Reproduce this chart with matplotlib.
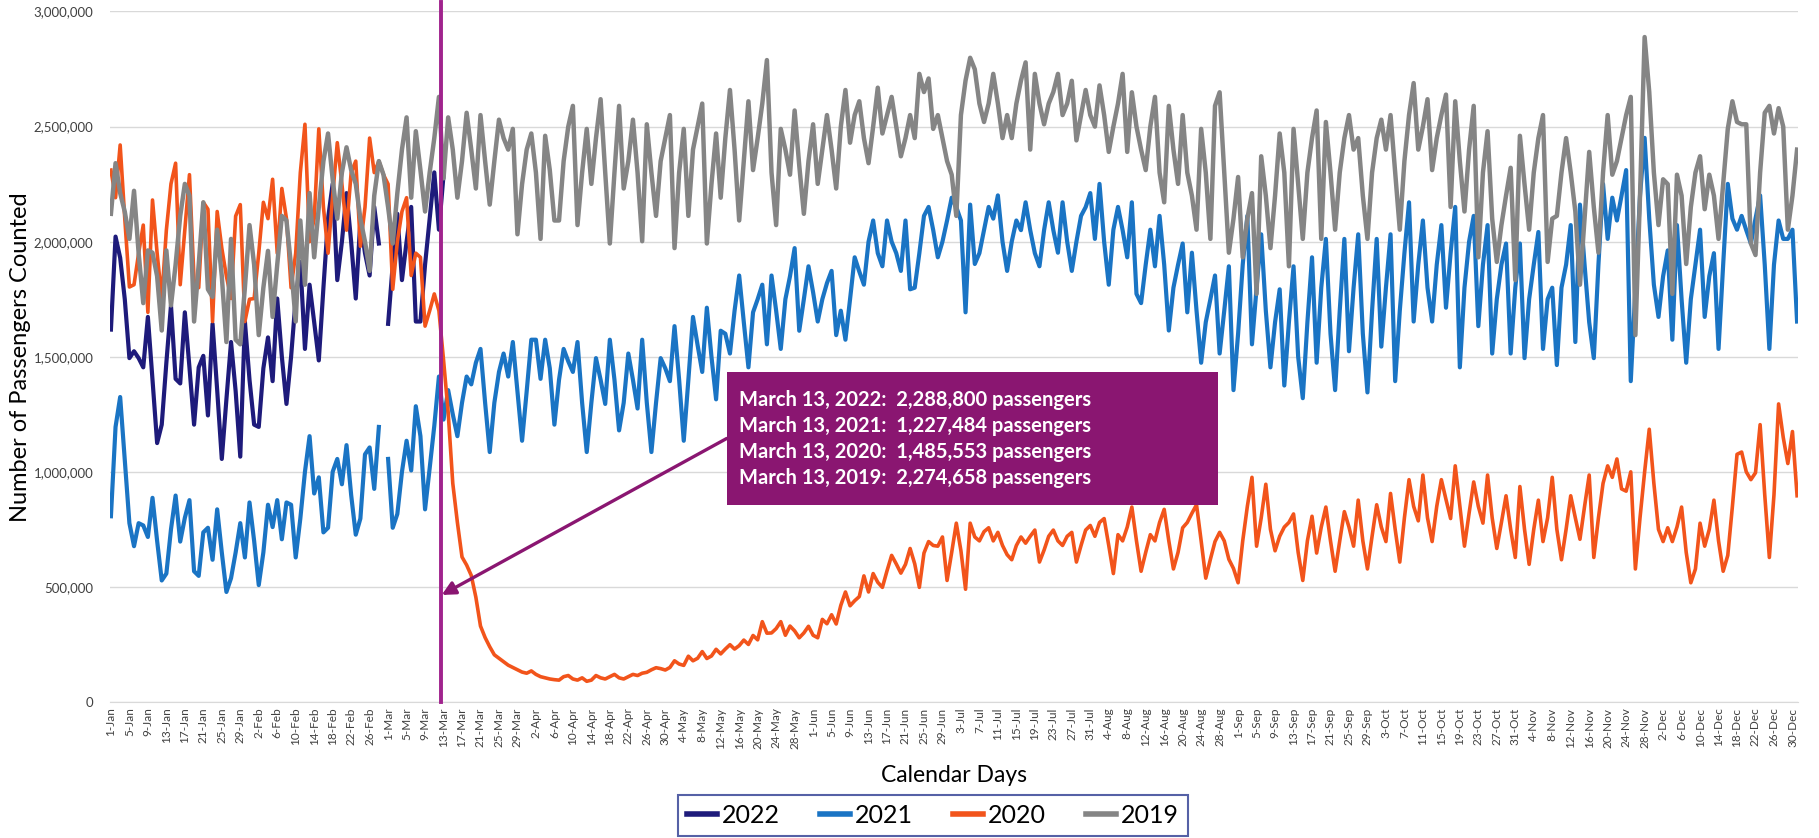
import matplotlib
matplotlib.use("Agg")
import matplotlib.pyplot as plt
from matplotlib.patches import Rectangle
from matplotlib.ticker import FuncFormatter
import numpy as np
import pandas as pd

plt.rcParams['font.family'] = ['Lato', 'DejaVu Sans']

# calendar days (leap-year calendar, 366 slots)
dias = pd.date_range('2020-01-01', '2020-12-31', freq='D')
rotulos = [f"{d.day}-{d.strftime('%b')}" for d in dias]

# passengers per day, in thousands
y2019 = [2121, 2341, 2211, 2130, 2012, 2221, 1950,
         1733, 1962, 1952, 1850, 1614, 1962, 1723,
         1900, 2112, 2251, 2200, 1653, 1900, 2171,
         1793, 1760, 2052, 1850, 1564, 2012, 1574,
         1554, 1800, 2072, 1900, 1594, 1800, 1960,
         1673, 1900, 2112, 2092, 1893, 1653, 2092,
         1813, 2211, 1932, 2150, 2350, 2470, 2271,
         2100, 2300, 2410, 2311, 2251, 2100, 2000,
         1873, 2200, 2350, 2291, 2150, 1992, 2211,
         2400, 2540, 2191, 2480, 2311, 2131, 2300,
         2450, 2629, 2275, 2540, 2400, 2191, 2350,
         2560, 2400, 2231, 2550, 2350, 2161, 2350,
         2530, 2450, 2400, 2490, 2032, 2250, 2400,
         2470, 2300, 2012, 2460, 2311, 2092, 2092,
         2350, 2500, 2590, 2072, 2300, 2490, 2251,
         2450, 2619, 2300, 1992, 2300, 2590, 2231,
         2350, 2530, 2300, 2002, 2510, 2300, 2112,
         2350, 2450, 2550, 1972, 2300, 2490, 2112,
         2400, 2500, 2600, 1992, 2250, 2470, 2191,
         2450, 2659, 2400, 2092, 2350, 2610, 2311,
         2450, 2600, 2789, 2300, 2072, 2490, 2400,
         2291, 2570, 2331, 2121, 2350, 2510, 2251,
         2400, 2550, 2400, 2231, 2500, 2659, 2430,
         2550, 2610, 2450, 2341, 2500, 2669, 2470,
         2550, 2629, 2500, 2371, 2450, 2550, 2450,
         2729, 2650, 2709, 2490, 2550, 2450, 2350,
         2291, 2112, 2550, 2700, 2799, 2749, 2600,
         2520, 2600, 2729, 2600, 2450, 2550, 2450,
         2600, 2700, 2779, 2400, 2729, 2600, 2510,
         2600, 2650, 2729, 2550, 2600, 2699, 2440,
         2550, 2659, 2550, 2500, 2679, 2550, 2390,
         2500, 2600, 2729, 2390, 2649, 2500, 2400,
         2311, 2500, 2629, 2300, 2171, 2590, 2400,
         2251, 2550, 2300, 2200, 2052, 2490, 2300,
         2012, 2590, 2649, 2300, 1952, 2100, 2281,
         1932, 2100, 2211, 1773, 2371, 2200, 1972,
         2200, 2470, 2300, 1893, 2490, 2250, 2012,
         2300, 2450, 2570, 2012, 2520, 2300, 2052,
         2300, 2450, 2550, 2400, 2450, 2200, 2012,
         2300, 2450, 2530, 2400, 2550, 2300, 2052,
         2350, 2550, 2689, 2400, 2500, 2619, 2311,
         2450, 2550, 2639, 2151, 2610, 2350, 2131,
         2400, 2590, 1932, 2300, 2480, 2100, 1912,
         2072, 2200, 2321, 1833, 2460, 2250, 2052,
         2300, 2450, 2550, 1912, 2100, 2112, 2300,
         2450, 2300, 2131, 1813, 2100, 2390, 2150,
         1952, 2300, 2550, 2291, 2350, 2450, 2550,
         2629, 1594, 2200, 2889, 2650, 2300, 2072,
         2271, 2250, 1773, 2291, 2200, 1903, 2150,
         2300, 2371, 2141, 2291, 2200, 2012, 2250,
         2490, 2610, 2520, 2510, 2510, 1992, 1942,
         2300, 2560, 2590, 2470, 2580, 2500, 2052,
         2200, 2400]

y2020 = [2311, 2191, 2420, 2100, 1803, 1813, 1950,
         2072, 1693, 2181, 1950, 1753, 2050, 2251,
         2341, 1813, 2050, 2291, 1833, 1800, 2171,
         2141, 1653, 2131, 1972, 1850, 1753, 2111,
         2161, 1653, 1750, 1753, 1950, 2171, 2100,
         2271, 1950, 2231, 2100, 1800, 1950, 2300,
         2510, 2000, 2100, 2490, 2150, 1950, 2200,
         2430, 2250, 2050, 2300, 2350, 1980, 2150,
         2450, 2300, 2350, 2291, 2250, 1793, 2000,
         2131, 2191, 1853, 1950, 1932, 1633, 1700,
         1773, 1700, 1486, 1260, 950, 780, 630,
         595, 550, 455, 330, 280, 240, 205,
         190, 175, 160, 150, 140, 130, 125,
         135, 120, 110, 105, 100, 97, 95,
         110, 115, 100, 95, 105, 90, 95,
         115, 105, 100, 110, 120, 105, 100,
         110, 120, 115, 125, 129, 140, 149,
         145, 139, 150, 179, 165, 159, 199,
         179, 190, 219, 189, 200, 229, 209,
         230, 249, 230, 245, 269, 250, 289,
         270, 349, 299, 300, 319, 349, 290,
         330, 309, 279, 300, 329, 290, 279,
         359, 340, 379, 339, 420, 478, 418,
         440, 458, 548, 478, 558, 520, 498,
         570, 637, 600, 560, 598, 667, 600,
         498, 647, 697, 680, 677, 717, 528,
         650, 777, 657, 490, 777, 717, 700,
         740, 757, 700, 737, 680, 640, 618,
         680, 717, 690, 720, 747, 608, 660,
         720, 747, 700, 680, 720, 737, 608,
         680, 747, 767, 720, 780, 797, 680,
         558, 727, 700, 760, 847, 700, 568,
         650, 727, 700, 780, 837, 700, 578,
         650, 757, 780, 820, 857, 700, 538,
         620, 697, 737, 700, 620, 580, 518,
         700, 850, 976, 677, 800, 946, 750,
         657, 720, 760, 780, 817, 650, 528,
         700, 807, 647, 760, 847, 700, 568,
         700, 827, 760, 677, 877, 700, 578,
         720, 857, 760, 697, 906, 750, 608,
         800, 966, 850, 787, 986, 800, 697,
         850, 966, 880, 797, 1026, 850, 677,
         820, 956, 850, 777, 986, 800, 667,
         780, 896, 750, 628, 936, 750, 598,
         750, 877, 697, 800, 976, 750, 618,
         750, 896, 800, 707, 850, 986, 628,
         800, 950, 1026, 976, 1056, 926, 916,
         1000, 578, 800, 1000, 1185, 950, 750,
         697, 757, 697, 760, 847, 650, 518,
         578, 777, 677, 750, 877, 700, 568,
         637, 850, 1076, 1086, 1000, 966, 996,
         1205, 900, 628, 900, 1295, 1150, 1036,
         1175, 896]

y2021 = [807, 1195, 1325, 1050, 777, 677, 777,
         767, 717, 887, 700, 528, 558, 750,
         897, 697, 800, 877, 568, 548, 737,
         757, 618, 837, 650, 478, 538, 650,
         777, 628, 867, 700, 508, 650, 857,
         760, 877, 707, 867, 857, 628, 797,
         1000, 1155, 906, 976, 737, 757, 1000,
         1056, 946, 1116, 900, 727, 797, 1076,
         1106, 926, 1195, None, 1056, 757, 817,
         1000, 1135, 1006, 1285, 1155, 837, 1016,
         1200, 1414, 1227, 1355, 1250, 1155, 1300,
         1414, 1380, 1474, 1534, 1300, 1086, 1300,
         1434, 1514, 1414, 1564, 1350, 1135, 1350,
         1574, 1574, 1404, 1574, 1450, 1205, 1400,
         1534, 1480, 1434, 1564, 1300, 1086, 1300,
         1494, 1400, 1295, 1574, 1400, 1180, 1300,
         1514, 1400, 1275, 1574, 1300, 1086, 1300,
         1494, 1450, 1394, 1633, 1400, 1135, 1400,
         1673, 1550, 1434, 1713, 1500, 1315, 1613,
         1600, 1514, 1700, 1853, 1650, 1454, 1693,
         1750, 1813, 1554, 1853, 1700, 1534, 1750,
         1850, 1972, 1613, 1750, 1893, 1780, 1653,
         1750, 1820, 1873, 1594, 1700, 1574, 1750,
         1932, 1870, 1813, 2000, 2092, 1950, 1893,
         2092, 2000, 1950, 1873, 2092, 1793, 1800,
         1950, 2112, 2151, 2050, 1932, 2000, 2092,
         2191, 2150, 2092, 1693, 2161, 1903, 1950,
         2050, 2151, 2100, 2201, 2000, 1873, 2000,
         2092, 2050, 2171, 2050, 1950, 1893, 2050,
         2171, 2050, 1952, 2171, 2000, 1873, 2000,
         2112, 2150, 2211, 2012, 2251, 2000, 1813,
         2052, 2151, 2050, 1932, 2171, 1773, 1733,
         1900, 2052, 1893, 2112, 1900, 1614, 1800,
         1900, 1992, 1693, 1952, 1700, 1474, 1650,
         1750, 1853, 1514, 1700, 1893, 1355, 1600,
         1900, 2112, 1554, 1800, 2032, 1700, 1454,
         1650, 1793, 1375, 1650, 1893, 1500, 1320,
         1650, 1932, 1474, 1800, 2012, 1600, 1355,
         1700, 2012, 1524, 1800, 2032, 1600, 1345,
         1700, 2012, 1544, 1800, 2032, 1394, 1700,
         1950, 2171, 1653, 1900, 2092, 1800, 1653,
         1900, 2072, 1713, 1950, 2151, 1454, 1800,
         2000, 2112, 1633, 1900, 2072, 1514, 1750,
         1900, 1992, 1514, 1800, 1992, 1494, 1750,
         1900, 2042, 1534, 1750, 1800, 1464, 1800,
         1900, 2072, 1564, 2161, 1900, 1650, 1494,
         1900, 2251, 2012, 2191, 2092, 2200, 2311,
         1394, 1800, 2200, 2451, 2100, 1813, 1673,
         1850, 1962, 1574, 2072, 1750, 1474, 1750,
         1900, 2052, 1673, 1850, 1950, 1534, 1900,
         2251, 2100, 2052, 2112, 2050, 1992, 2100,
         2201, 1900, 1534, 1900, 2092, 2012, 2012,
         2052, 1653]

y2022 = [1618, 2022, 1930, 1750, 1494, 1524, 1494,
         1454, 1673, 1400, 1125, 1205, 1474, 1723,
         1404, 1384, 1693, 1454, 1205, 1454, 1504,
         1245, 1643, 1355, 1056, 1315, 1564, 1350,
         1066, 1653, 1400, 1205, 1195, 1450, 1584,
         1394, 1753, 1500, 1295, 1500, 1753, 1912,
         1534, 1813, 1650, 1484, 1800, 2100, 2251,
         1833, 2000, 2211, 2000, 1753, 2092, 1950,
         1853, 2151, 1992, None, 1643, 1900, 2121,
         1833, 2000, 2151, 1653, 1653, 1900, 2100,
         2301, 2052, 2289]

series = [('2022', y2022, '#1E1B7B', 3.0),
          ('2021', y2021, '#1A74C4', 3.0),
          ('2020', y2020, '#F2541B', 2.6),
          ('2019', y2019, '#858585', 3.2)]

caixa_textos = ["March 13, 2022:  2,288,800 passengers",
                "March 13, 2021:  1,227,484 passengers",
                "March 13, 2020:  1,485,553 passengers",
                "March 13, 2019:  2,274,658 passengers"]

cor_caixa = '#8A1671'
cor_linha = '#A0238D'

fig = plt.figure(figsize=(18.19, 8.38), dpi=100)
ax = fig.add_axes([110/1819, 136/838, 1688/1819, 690.5/838])

for nome, vals, cor, lw in series:
    v = np.array(vals, dtype=float) * 1000
    ax.plot(np.arange(len(v)), v, color=cor, lw=lw, label=nome, solid_joinstyle='round')

ax.set_xlim(-0.2, 365.2)
ax.set_ylim(0, 3000000)
ax.set_yticks(np.arange(0, 3000001, 500000))
ax.yaxis.set_major_formatter(FuncFormatter(lambda v, p: f"{int(v):,}"))
ax.set_xticks(np.arange(0, 366, 4))
ax.set_xticklabels(rotulos[::4], rotation=90, fontsize=8.5, color='#404040')
ax.tick_params(axis='x', length=0, pad=4)
ax.tick_params(axis='y', length=0, pad=12, labelsize=9.5, labelcolor='#404040')
ax.yaxis.grid(True, color='#D9D9D9', lw=1.0)
ax.set_axisbelow(True)
for s in ['left', 'right', 'top']:
    ax.spines[s].set_visible(False)
ax.spines['bottom'].set_color('#D9D9D9')

fig.text(21/1819, 1 - 357/838, "Number of Passengers Counted", rotation=90,
         fontsize=17, color='black', ha='center', va='center')
ax.set_xlabel("Calendar Days", fontsize=16.5, color='black', labelpad=12)

# marker line at March 13
ax.plot([71.4, 71.4], [0, 3040000], color=cor_linha, lw=2.8, clip_on=False, zorder=6)

# annotation box
ax.add_patch(Rectangle((133.3, 857000), 106.4, 577000, facecolor=cor_caixa,
                       edgecolor='none', zorder=7))
for i, t in enumerate(caixa_textos):
    ax.text(135.9, 1312000 - i*113000, t, color='white', fontsize=14.5,
            fontweight='bold', va='center', ha='left', zorder=8)
ax.annotate('', xy=(71.6, 465000), xytext=(133.3, 1145000),
            arrowprops=dict(arrowstyle='-|>', color=cor_caixa, lw=2.4,
                            mutation_scale=20, shrinkA=0, shrinkB=0), zorder=8)

leg = fig.legend(loc='center', bbox_to_anchor=(0.513, 0.027), ncol=4, fontsize=18,
                 frameon=True, fancybox=False, handlelength=1.2, handletextpad=0.2,
                 columnspacing=1.6, borderpad=0.35)
leg.get_frame().set_edgecolor('#2B3990')
leg.get_frame().set_linewidth(1.5)
for h in leg.get_lines():
    h.set_linewidth(4)

fig.savefig('out.png', dpi=100)
